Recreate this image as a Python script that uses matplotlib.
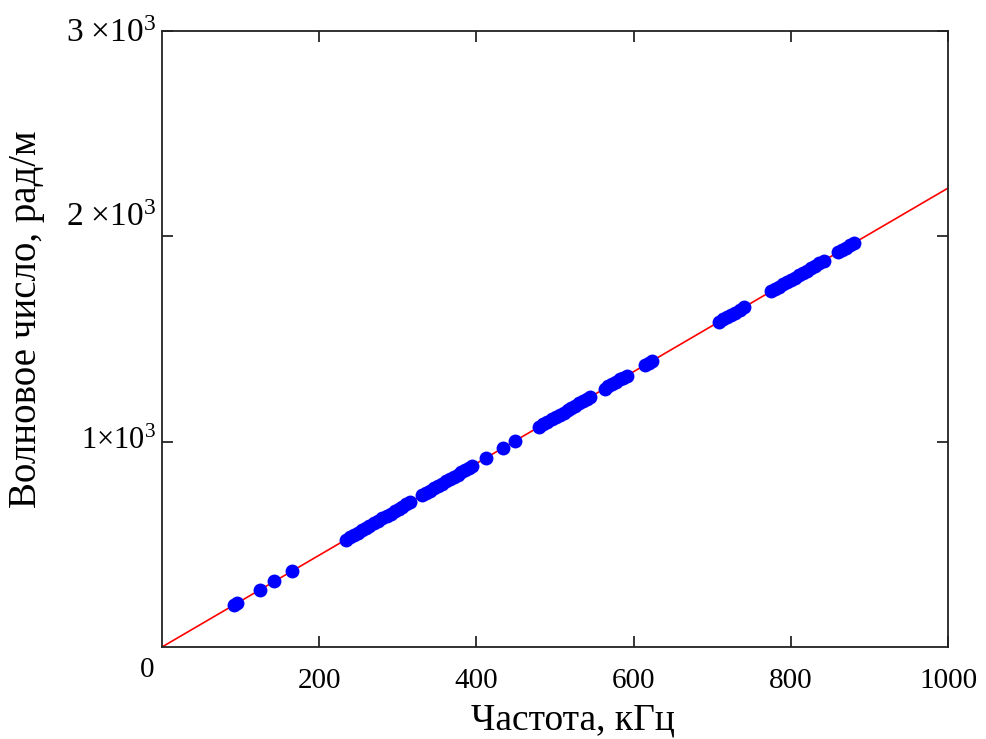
import matplotlib.pyplot as plt

plt.rcParams["font.family"] = ["Liberation Serif", "DejaVu Serif"]
plt.rcParams["mathtext.fontset"] = "custom"
plt.rcParams["mathtext.rm"] = "Liberation Serif"
plt.rcParams["mathtext.it"] = "Liberation Serif:italic"

# Measured points: frequency (kHz) and wave number (rad/m)
freq = [92, 96, 125, 143, 166,
        234, 239, 244, 249, 254, 259, 264, 270, 275, 280, 286, 291, 296, 301, 306, 311, 316,
        331, 336, 341, 346, 351, 356, 361, 366, 371, 376, 381, 386, 390, 394,
        412, 434, 449,
        480, 485, 490, 496, 501, 506, 511, 516, 521, 526, 531, 536, 541, 545,
        563, 568, 573, 578, 583, 587, 591,
        614, 619, 623,
        709, 714, 719, 724, 729, 735, 740,
        775, 780, 785, 790, 795, 800, 805, 810, 815, 820, 826, 831, 836, 842,
        860, 865, 870, 875, 880]
wavenum = [206, 214, 280, 319, 371,
           523, 534, 545, 557, 568, 579, 590, 603, 615, 626, 639, 650, 662, 673, 684, 695, 706,
           740, 751, 762, 773, 784, 796, 807, 818, 829, 840, 852, 863, 872, 881,
           921, 970, 1004,
           1073, 1084, 1095, 1109, 1120, 1131, 1142, 1153, 1164, 1176, 1187, 1198, 1209, 1218,
           1258, 1269, 1281, 1292, 1303, 1312, 1321,
           1372, 1383, 1392,
           1585, 1596, 1607, 1618, 1629, 1643, 1654,
           1732, 1743, 1754, 1766, 1777, 1788, 1799, 1810, 1822, 1833, 1846, 1857, 1868, 1882,
           1922, 1933, 1944, 1956, 1967]

# Linear fit line
fit_x = [0, 1000]
fit_y = [0, 2235]

x_ticks = [200, 400, 600, 800, 1000]
y_ticks = [1000, 2000, 3000]

fig = plt.figure(figsize=(9.87, 7.39), dpi=100)
ax = fig.add_axes([0.1641, 0.1245, 0.7964, 0.8335])

ax.plot(fit_x, fit_y, color="red", lw=1.2, zorder=2)
ax.plot(freq, wavenum, "o", color="blue", markersize=10, markeredgewidth=0, zorder=3)

ax.set_xlim(0, 1000)
ax.set_ylim(0, 3000)
ax.set_xticks(x_ticks)
ax.set_xticklabels([str(v) for v in x_ticks], fontsize=21)
ax.set_yticks(y_ticks)
ax.set_yticklabels([])

ax.tick_params(direction="in", length=8, width=1.1, top=True, right=True,
               colors="black")
ax.tick_params(axis="x", pad=15)
for s in ax.spines.values():
    s.set_linewidth(1.3)
    s.set_color("#222222")

# Mathcad-style y tick labels (placed slightly off the ticks like the original)
ax.text(-0.008, 1000, r"$1{\times}10^{3}$", transform=ax.get_yaxis_transform(),
        fontsize=22, ha="right", va="center")
ax.text(-0.008, 2090, r"$2\ {\times}10^{3}$", transform=ax.get_yaxis_transform(),
        fontsize=24, ha="right", va="center")
ax.text(-0.008, 2985, r"$3\ {\times}10^{3}$", transform=ax.get_yaxis_transform(),
        fontsize=24, ha="right", va="center")

ax.text(-0.019, -0.038, "0", transform=ax.transAxes, fontsize=21,
        ha="center", va="center")

fig.text(573 / 987, 1 - 720 / 739, "Частота, кГц", fontsize=27,
         ha="center", va="center")
fig.text(27 / 987, 1 - 319 / 739, "Волновое число, рад/м", fontsize=28,
         ha="center", va="center", rotation=90)

fig.savefig("out.png", dpi=100)
